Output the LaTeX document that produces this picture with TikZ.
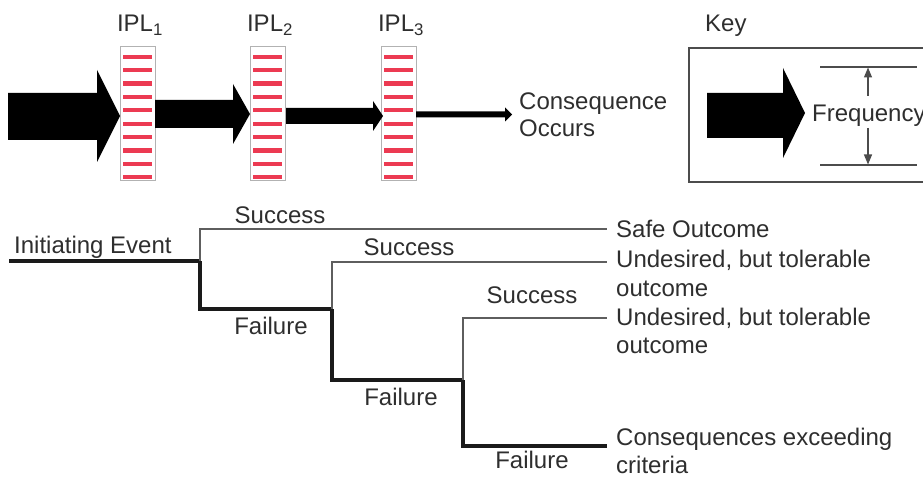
\documentclass[tikz,border=0pt]{standalone}
\usepackage{fontspec}
\setmainfont{Liberation Sans}
\usetikzlibrary{arrows.meta}
\definecolor{txt}{HTML}{2E2E2E}
\definecolor{ipl}{HTML}{EC3A52}
\definecolor{thinc}{HTML}{5E5E5E}
\definecolor{thickc}{HTML}{1A1A1A}
\begin{document}
\begin{tikzpicture}[x=1pt,y=-1pt,
  lbl/.style={font=\fontsize{24}{28}\selectfont, text=txt, inner sep=0pt},
  bar/.style={draw=black!30, line width=1pt, fill=white},
  stripe/.style={fill=ipl},
  blockarrow/.style={fill=black},
  thinline/.style={draw=thinc, line width=1.6pt},
  thickline/.style={draw=thickc, line width=3.2pt},
  keyline/.style={draw=black!70, line width=1.3pt},
  freqarrow/.style={draw=black!70, line width=1.2pt, -{Triangle[length=10pt,width=8pt]}}]
\useasboundingbox (0,0) rectangle (923,481);

% IPL barriers
\foreach \x/\n in {120/1,250/2,381/3}{
  \draw[bar] (\x,47) rectangle ++(35,134);
  \foreach \i in {0,...,9}{
    \fill[stripe] (\x+3,54.7+\i*13.4) rectangle ++(29,4.2);
  }
}
\node[lbl,anchor=base] (ipl1) at (140,32) {IPL\textsubscript{1}};
\node[lbl,anchor=base] (ipl2) at (270,32) {IPL\textsubscript{2}};
\node[lbl,anchor=base] (ipl3) at (401,32) {IPL\textsubscript{3}};

% block arrows
\fill[blockarrow] (8,93) -- (97,93) -- (97,70) -- (120,116) -- (97,162) -- (97,140) -- (8,140) -- cycle;
\fill[blockarrow] (155,100) -- (233,100) -- (233,84) -- (250,114) -- (233,144) -- (233,128) -- (155,128) -- cycle;
\fill[blockarrow] (286,108) -- (373,108) -- (373,101) -- (383,116) -- (373,131) -- (373,124) -- (286,124) -- cycle;
\fill[blockarrow] (416,111.5) -- (505,111.5) -- (505,107.5) -- (512,114.5) -- (505,121.5) -- (505,117.5) -- (416,117.5) -- cycle;

\node[lbl,anchor=base west] (cons1) at (519,110) {Consequence};
\node[lbl,anchor=base west] (cons2) at (519,137) {Occurs};

% Key
\node[lbl,anchor=base west] (key) at (705,32) {Key};
\draw[keyline] (925,48) -| (689,182) -- (925,182);
\fill[blockarrow] (707,93) -- (783,93) -- (783,68) -- (805,113) -- (783,158) -- (783,138) -- (707,138) -- cycle;
\node[lbl,anchor=base west] (freq) at (812,122) {Frequency};
\coordinate (ftl) at (820,67);
\coordinate (ftr) at (917,67);
\coordinate (fbl) at (820,165);
\coordinate (fbr) at (917,165);
\draw[keyline] (ftl) -- (ftr);
\draw[keyline] (fbl) -- (fbr);
\coordinate (fa1) at (868,96);
\coordinate (fa1e) at (868,67.5);
\coordinate (fa2) at (868,128);
\coordinate (fa2e) at (868,164.5);
\draw[freqarrow] (fa1) -- (fa1e);
\draw[freqarrow] (fa2) -- (fa2e);

% Event tree
\node[lbl,anchor=base west] (ie) at (14,253) {Initiating Event};
\coordinate (ie0) at (9,261);
\coordinate (b1) at (200,261);
\coordinate (b1s) at (200,229);
\coordinate (b1f) at (200,309);
\coordinate (b2) at (332,309);
\coordinate (b2s) at (332,262);
\coordinate (b2f) at (332,380);
\coordinate (b3) at (463,380);
\coordinate (b3s) at (463,318);
\coordinate (b3f) at (463,446);
\coordinate (e1) at (607,229);
\coordinate (e2) at (607,262);
\coordinate (e3) at (607,318);
\coordinate (e4) at (607,446);

\draw[thickline] (ie0) -- (b1);
\draw[thinline] (b1) -- (b1s) -- (e1);
\draw[thickline] (b1) -- (b1f) -- (b2);
\draw[thinline] (b2) -- (b2s) -- (e2);
\draw[thickline] (b2) -- (b2f) -- (b3);
\draw[thinline] (b3) -- (b3s) -- (e3);
\draw[thickline] (b3) -- (b3f) -- (e4);

\node[lbl,anchor=base] (s1) at (280,223) {Success};
\node[lbl,anchor=base] (f1) at (271,334) {Failure};
\node[lbl,anchor=base] (s2) at (409,255) {Success};
\node[lbl,anchor=base] (f2) at (401,405) {Failure};
\node[lbl,anchor=base] (s3) at (532,303) {Success};
\node[lbl,anchor=base] (f3) at (532,468) {Failure};

\node[lbl,anchor=base west] (o1) at (616,237) {Safe Outcome};
\node[lbl,anchor=base west] (o2a) at (616,267) {Undesired, but tolerable};
\node[lbl,anchor=base west] (o2b) at (616,296) {outcome};
\node[lbl,anchor=base west] (o3a) at (616,325) {Undesired, but tolerable};
\node[lbl,anchor=base west] (o3b) at (616,353) {outcome};
\node[lbl,anchor=base west] (o4a) at (616,445) {Consequences exceeding};
\node[lbl,anchor=base west] (o4b) at (616,473) {criteria};
\end{tikzpicture}
\end{document}
